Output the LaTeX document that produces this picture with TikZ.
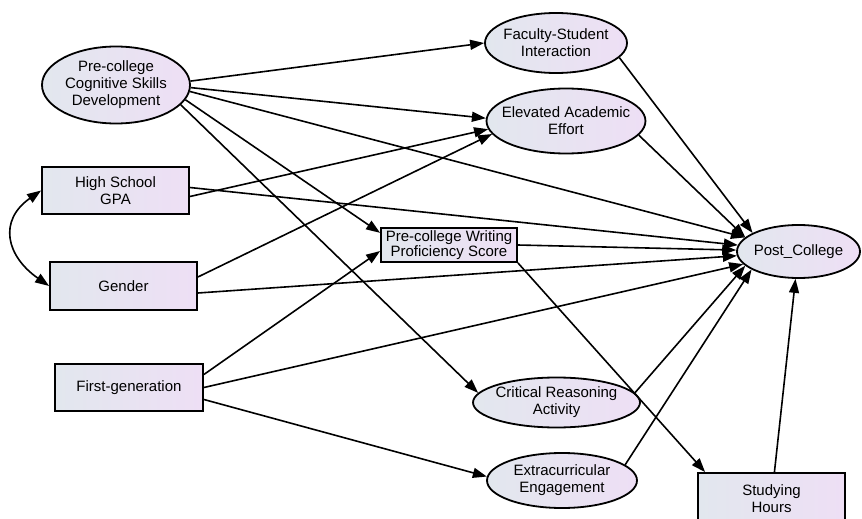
\documentclass[tikz,border=0pt]{standalone}
\usepackage{fontspec}
\setmainfont{Liberation Sans}
\usepackage{tikz}
\usetikzlibrary{
    arrows.meta,
    shapes.geometric
}
\definecolor{shadeleft}{RGB}{226,231,238}
\definecolor{shaderight}{RGB}{238,223,245}

\begin{document}
\begin{tikzpicture}[x=1pt, y=-1pt,
    >={Triangle[length=14pt,width=10pt]},
    every node/.style={font=\fontsize{15}{17}\selectfont, align=center, draw=black,
        line width=1.8pt, left color=shadeleft, right color=shaderight},
    obs/.style={rectangle, inner sep=2pt},
    lat/.style={ellipse, inner xsep=-8pt, inner ysep=0pt},
    link/.style={->, line width=1.6pt}
]
\useasboundingbox (0,0) rectangle (862,519);
\clip (0,0) rectangle (862,519);

\node[lat, minimum width=148pt, minimum height=77pt] (cog) at (116,85) {Pre-college\\Cognitive Skills\\Development};
\node[obs, minimum width=147pt, minimum height=47pt] (gpa) at (115.5,190.5) {High School\\GPA};
\node[obs, minimum width=147pt, minimum height=48pt] (gen) at (123.5,286) {Gender};
\node[obs, minimum width=148pt, minimum height=47pt] (first) at (129,387.5) {First-generation};
\node[obs, minimum width=136pt, minimum height=34pt, font=\fontsize{15}{15.5}\selectfont] (write) at (449,245) {Pre-college Writing\\Proficiency Score};
\node[lat, minimum width=142pt, minimum height=60pt] (fsi) at (556,43) {Faculty-Student\\Interaction};
\node[lat, minimum width=158pt, minimum height=65pt] (eff) at (566,121) {Elevated Academic\\Effort};
\node[lat, minimum width=167pt, minimum height=50pt] (crit) at (556.5,402.5) {Critical Reasoning\\Activity};
\node[lat, minimum width=150pt, minimum height=55pt] (extra) at (562,480.5) {Extracurricular\\Engagement};
\node[lat, minimum width=123pt, minimum height=53pt] (post) at (798.5,251.5) {Post\_College};
\node[obs, minimum width=147pt, minimum height=52pt] (study) at (771.5,499) {Studying\\Hours};

\draw[link] (cog.3) -- (fsi.west);
\draw[link] (cog.-2) -- (eff.178);
\draw[link] (cog.-5) -- (post);
\draw[link] (cog.-12) -- (write.170);
\draw[link] (cog.-17) -- (crit.173);
\draw[link] ([yshift=-6pt]gpa.east) -- (eff.186);
\draw[link] ([yshift=3pt]gpa.east) -- (post);
\draw[link] ([yshift=9pt]gen.east) -- (eff.190);
\draw[link] ([yshift=-7pt]gen.east) -- (post);
\draw[link] ([yshift=13pt]first.east) -- (write.185);
\draw[link] (first.east) -- (post);
\draw[link] ([yshift=-12pt]first.east) -- (extra.177);
\draw[link] (write.east) -- (post);
\draw[link] (write.south east) -- ([xshift=8pt]study.north west);
\draw[link] (fsi.-13) -- (post.158);
\draw[link] (eff.-11) -- (post.165);
\draw[link] (crit.7) -- (post.195);
\draw[link] (extra.14) -- (post.201);
\draw[link] (study) -- (post);
\draw[link, <->] (gpa.west) .. controls +(-43,30) and +(-43,-30) .. (gen.west);
\end{tikzpicture}
\end{document}
